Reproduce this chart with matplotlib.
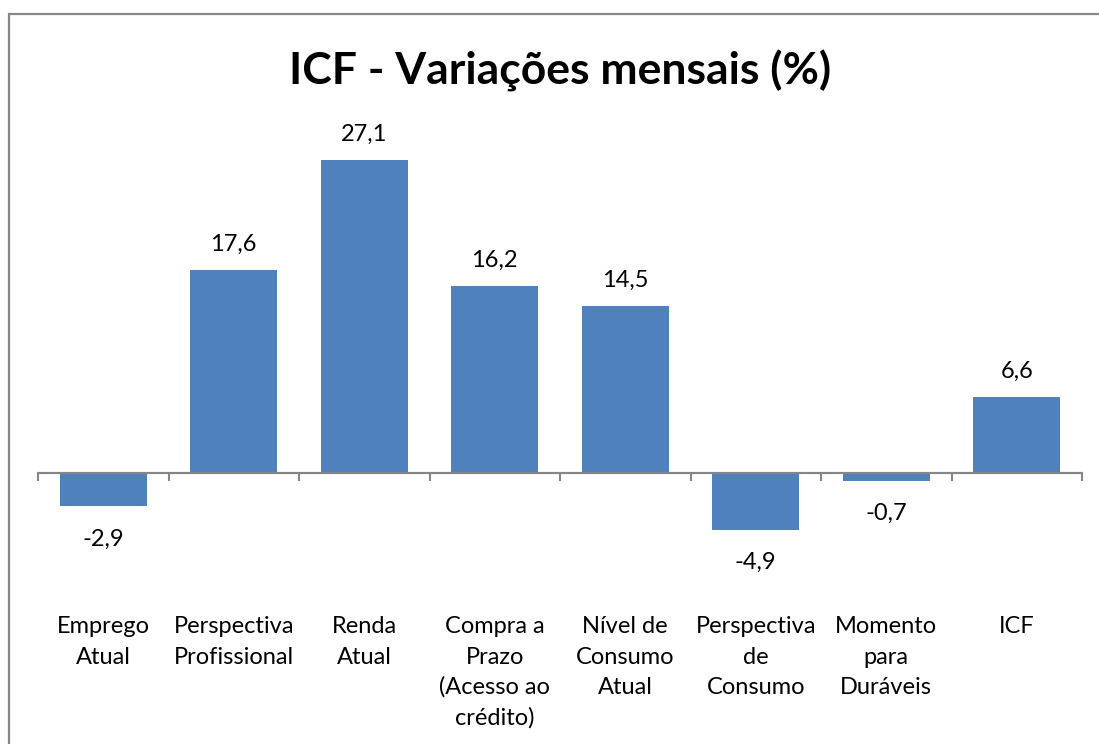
import matplotlib
matplotlib.use("Agg")
import matplotlib.pyplot as plt
from matplotlib.patches import Rectangle
import matplotlib.transforms as mtransforms

categories = ["Emprego\nAtual", "Perspectiva\nProfissional", "Renda\nAtual",
              "Compra a\nPrazo\n(Acesso ao\ncrédito)", "Nível de\nConsumo\nAtual",
              "Perspectiva\nde\nConsumo", "Momento\npara\nDuráveis", "ICF"]
values = [-2.9, 17.6, 27.1, 16.2, 14.5, -4.9, -0.7, 6.6]
value_labels = ["-2,9", "17,6", "27,1", "16,2", "14,5", "-4,9", "-0,7", "6,6"]
title = "ICF - Variações mensais (%)"

W, H = 1099, 744
fig = plt.figure(figsize=(W / 100, H / 100), dpi=100)
plt.rcParams['font.family'] = ['Lato', 'DejaVu Sans']

bar_color = "#4F81BD"
axis_color = "#868686"

# axes placement (pixels)
x0, x1 = 38, 1082
ymin, ymax = -8, 30
zero_px = 473
ppu = 11.55
top_px = zero_px - ymax * ppu
bot_px = zero_px - ymin * ppu
ax = fig.add_axes([x0 / W, 1 - bot_px / H, (x1 - x0) / W, (bot_px - top_px) / H])
ax.set_xlim(-0.5, len(categories) - 0.5)
ax.set_ylim(ymin, ymax)

xs = list(range(len(categories)))
ax.bar(xs, values, width=0.667, color=bar_color, zorder=2)

for s in ax.spines.values():
    s.set_visible(False)
ax.set_yticks([])

# horizontal axis at zero with tick marks at category boundaries
ax.axhline(0, color=axis_color, lw=1.5, zorder=3)
ax.spines['bottom'].set_visible(True)
ax.spines['bottom'].set_position(('data', 0))
ax.spines['bottom'].set_color(axis_color)
ax.spines['bottom'].set_linewidth(1.5)
ax.set_xticks([i - 0.5 for i in range(len(categories) + 1)])
ax.set_xticklabels([])
ax.tick_params(axis='x', direction='out', length=6, width=1.5, color=axis_color)

FS = 17
# value labels (baseline placement in pixels -> points)
px = 72 / 100
for x, v, lab in zip(xs, values, value_labels):
    if v >= 0:
        off = 19 * px
    else:
        off = -39 * px
    ax.annotate(lab, (x, v), xytext=(0, off), textcoords='offset points',
                ha='center', va='baseline', fontsize=FS, color='black')

# category labels, one line at a time
trans = mtransforms.blended_transform_factory(ax.transData, fig.transFigure)
for x, c in zip(xs, categories):
    for i, line in enumerate(c.split("\n")):
        ax.text(x, 1 - (633 + 30.5 * i) / H, line, transform=trans,
                ha='center', va='baseline', fontsize=FS, color='black')

fig.text(560 / W, 1 - 71 / H, title, ha='center', va='center',
         fontsize=32, fontweight='bold', color='black')

# outer border
fig.patches.append(Rectangle((9 / W, -0.05), 1.2, 1 - 14 / H + 0.05,
                             transform=fig.transFigure, fill=False,
                             edgecolor=axis_color, lw=1.6, zorder=10))

fig.savefig("out.png", dpi=100, facecolor='white')
